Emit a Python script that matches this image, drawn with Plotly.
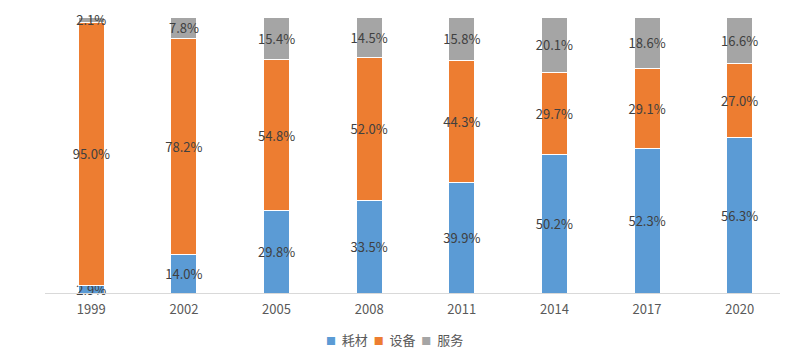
import plotly.graph_objects as go

years = ["1999", "2002", "2005", "2008", "2011", "2014", "2017", "2020"]
haocai = [2.9, 14.0, 29.8, 33.5, 39.9, 50.2, 52.3, 56.3]
shebei = [95.0, 78.2, 54.8, 52.0, 44.3, 29.7, 29.1, 27.0]
fuwu = [2.1, 7.8, 15.4, 14.5, 15.8, 20.1, 18.6, 16.6]

series = [("耗材", haocai, "#5B9BD5"), ("设备", shebei, "#ED7D31"), ("服务", fuwu, "#A5A5A5")]

font = "Noto Sans CJK SC"
fig = go.Figure()
for name, vals, color in series:
    fig.add_trace(go.Bar(
        x=years, y=vals, name=name,
        marker=dict(color=color, line=dict(color="white", width=1)),
        text=[f"{v:.1f}%" for v in vals],
        textposition="inside", insidetextanchor="middle", textangle=0,
        textfont=dict(color="#404040", size=13, family=font),
        cliponaxis=False,
        hoverinfo="skip", showlegend=False,
    ))

# compact legend (page body has an 8px margin, so the figure is 780x355)
legend_html = "  ".join(
    f'<span style="color:{c};font-size:10px">■</span>  {n}' for n, _, c in series
)
fig.add_annotation(text=legend_html, xref="paper", yref="paper", x=0.471, y=-0.17,
                   xanchor="center", yanchor="middle", showarrow=False,
                   font=dict(size=13, color="#595959", family=font))

fig.update_layout(
    barmode="stack", bargap=0.72,
    width=780, height=355,
    margin=dict(l=37, r=2, t=9, b=70, autoexpand=False),
    plot_bgcolor="white", paper_bgcolor="white",
    font=dict(family=font, color="#595959", size=12),
    uniformtext=dict(minsize=13, mode="show"),
    showlegend=False,
    xaxis=dict(showgrid=False, showline=True, linecolor="#d9d9d9", linewidth=1,
               ticks="", ticklabelstandoff=4, tickfont=dict(size=13, color="#595959")),
    yaxis=dict(visible=False, range=[0, 100], showgrid=False),
)
fig.write_html("out.html")
